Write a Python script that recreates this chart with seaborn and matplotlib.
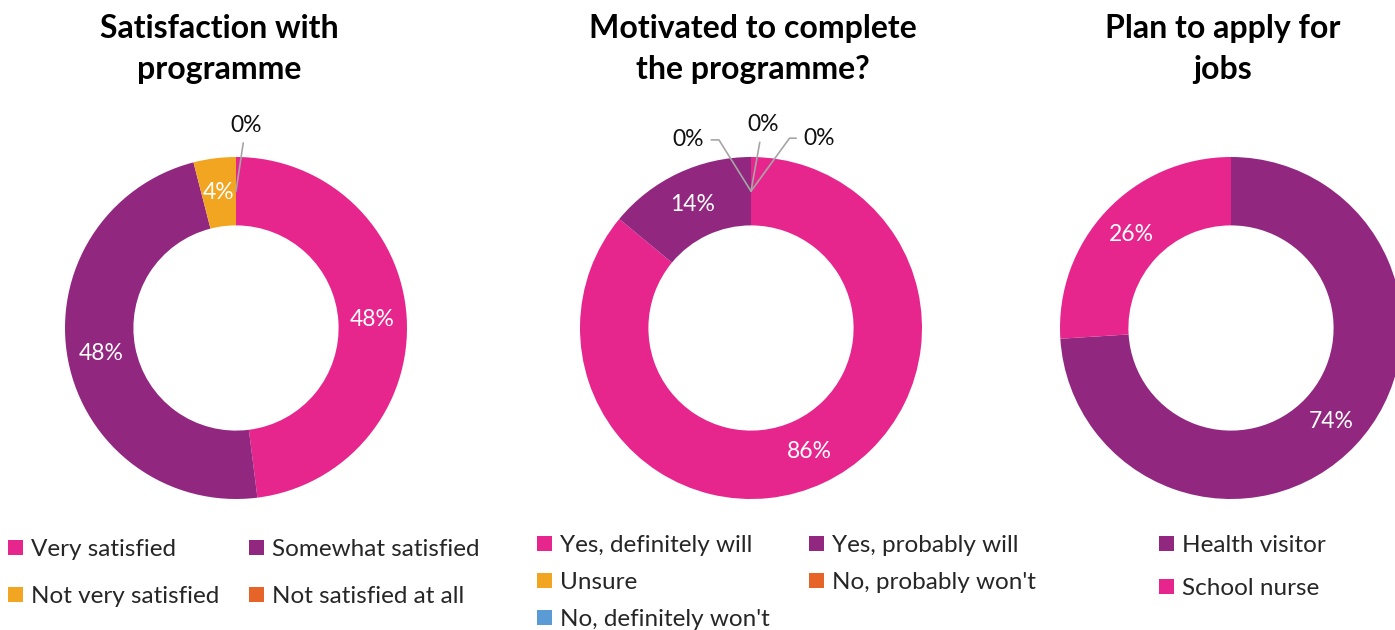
import matplotlib
matplotlib.use("Agg")
import matplotlib.pyplot as plt
import numpy as np
import seaborn as sb

sb.set_theme(style="white")
plt.rcParams['font.family'] = ['Lato', 'DejaVu Sans']

# dados
titulos = ["Satisfaction with\nprogramme", "Motivated to complete\nthe programme?", "Plan to apply for\njobs"]

cat_satisfacao = ["Very satisfied", "Somewhat satisfied", "Not very satisfied", "Not satisfied at all"]
val_satisfacao = [48, 48, 4, 0]

cat_motivacao = ["Yes, definitely will", "Yes, probably will", "Unsure", "No, probably won't", "No, definitely won't"]
val_motivacao = [86, 14, 0, 0, 0]

cat_empregos = ["Health visitor", "School nurse"]
val_empregos = [74, 26]

ROSA = "#E6268C"
ROXO = "#922780"
LARANJA = "#F2A521"
VERMELHO = "#E66428"
AZUL = "#5B9BD5"
cores = [sb.color_palette([ROSA, ROXO, LARANJA, VERMELHO]),
         sb.color_palette([ROSA, ROXO, LARANJA, VERMELHO, AZUL]),
         sb.color_palette([ROXO, ROSA])]

W, H = 1395, 630
fig = plt.figure(figsize=(W / 100, H / 100), dpi=100)

# centros dos aneis (px), raio 171 px
centros = [(236, 328), (751, 328), (1231, 328)]
R = 171
x_titulos = [219, 753, 1223]

# posicoes dos rotulos de 0% (em unidades do raio) e estilo da linha guia
rotulos_zero = [
    [((0.058, 1.187), None)],
    [((-0.368, 1.10), 'angle,angleA=0,angleB=122'),
     ((0.07, 1.19), None),
     ((0.40, 1.11), 'angle,angleA=0,angleB=54')],
    [],
]

# legendas: (x, y topo) px, labelspacing, columnspacing, ordem
legendas = [((8, 539), 1.08, 1.25, [0, 2, 1, 3]),
            ((537, 535), 0.66, 1.65, [0, 2, 4, 1, 3]),
            ((1159, 535), 0.9, 1.0, [0, 1])]

dados = [(cat_satisfacao, val_satisfacao), (cat_motivacao, val_motivacao), (cat_empregos, val_empregos)]

for i, (cats, vals) in enumerate(dados):
    cx, cy = centros[i]
    ax = fig.add_axes([(cx - R) / W, (H - cy - R) / H, 2 * R / W, 2 * R / H])
    wedges, _ = ax.pie(vals, colors=cores[i], startangle=90, counterclock=False, radius=1,
                       wedgeprops=dict(width=0.4, linewidth=0))
    ax.set_xlim(-1, 1)
    ax.set_ylim(-1, 1)
    ax.set_aspect('equal')
    ax.axis('off')

    total = float(sum(vals))
    acumulado = 0.0
    zeros = iter(rotulos_zero[i])
    for v in vals:
        meio = acumulado + v / 2.0
        ang = np.deg2rad(90 - 360 * meio / total)
        acumulado += v
        px, py = 0.8 * np.cos(ang), 0.8 * np.sin(ang)
        if v > 0:
            ax.text(px, py, "{}%".format(v), color='white', fontsize=16.5, ha='center', va='center')
        else:
            pos, con = next(zeros)
            props = dict(arrowstyle='-', color='#A6A6A6', lw=1.2, shrinkA=3, shrinkB=0)
            if con:
                props['connectionstyle'] = con
            ax.annotate("{}%".format(v), xy=(px, py), xytext=pos, fontsize=16.5, color='#111111',
                        ha='center', va='center', arrowprops=props, annotation_clip=False)

    fig.text(x_titulos[i] / W, 1 - 49 / H, titulos[i], fontsize=23, fontweight='bold',
             ha='center', va='center', linespacing=1.5, color='black')

    (lx, ly), lsp, csp, ordem = legendas[i]
    ncol = 2 if len(cats) > 2 else 1
    fig.legend([wedges[k] for k in ordem], [cats[k] for k in ordem], loc='upper left',
               bbox_to_anchor=(lx / W, 1 - ly / H), bbox_transform=fig.transFigure, ncol=ncol,
               frameon=False, fontsize=17.5, handlelength=0.6, handleheight=0.6, handletextpad=0.33,
               labelspacing=lsp, columnspacing=csp, borderpad=0, borderaxespad=0)

plt.savefig("out.png", dpi=100)
